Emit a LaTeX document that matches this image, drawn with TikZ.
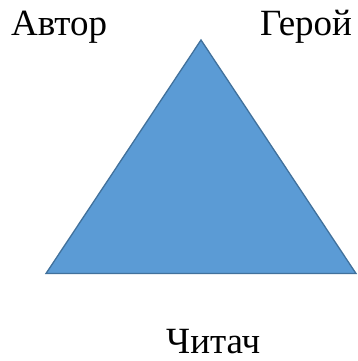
\documentclass[tikz,border=0pt]{standalone}
\usepackage{fontspec}
\setmainfont{Liberation Serif}
\definecolor{triFill}{HTML}{5B9BD5}
\definecolor{triLine}{HTML}{41719C}
\begin{document}
\begin{tikzpicture}[x=1pt,y=-1pt,
  lbl/.style={font=\fontsize{37}{40}\selectfont, inner sep=0pt, anchor=base west}]
\useasboundingbox (0,0) rectangle (357,361);
\coordinate (apex) at (201,40);
\coordinate (bl) at (46,273.5);
\coordinate (br) at (356,273.5);
\filldraw[fill=triFill, draw=triLine, line width=1.3pt, line join=miter] (apex) -- (br) -- (bl) -- cycle;
\node[lbl] (avtor) at (11,36) {Автор};
\node[lbl] (geroi) at (260,36) {Герой};
\node[lbl] (chytach) at (166,353) {Читач};
\end{tikzpicture}
\end{document}
